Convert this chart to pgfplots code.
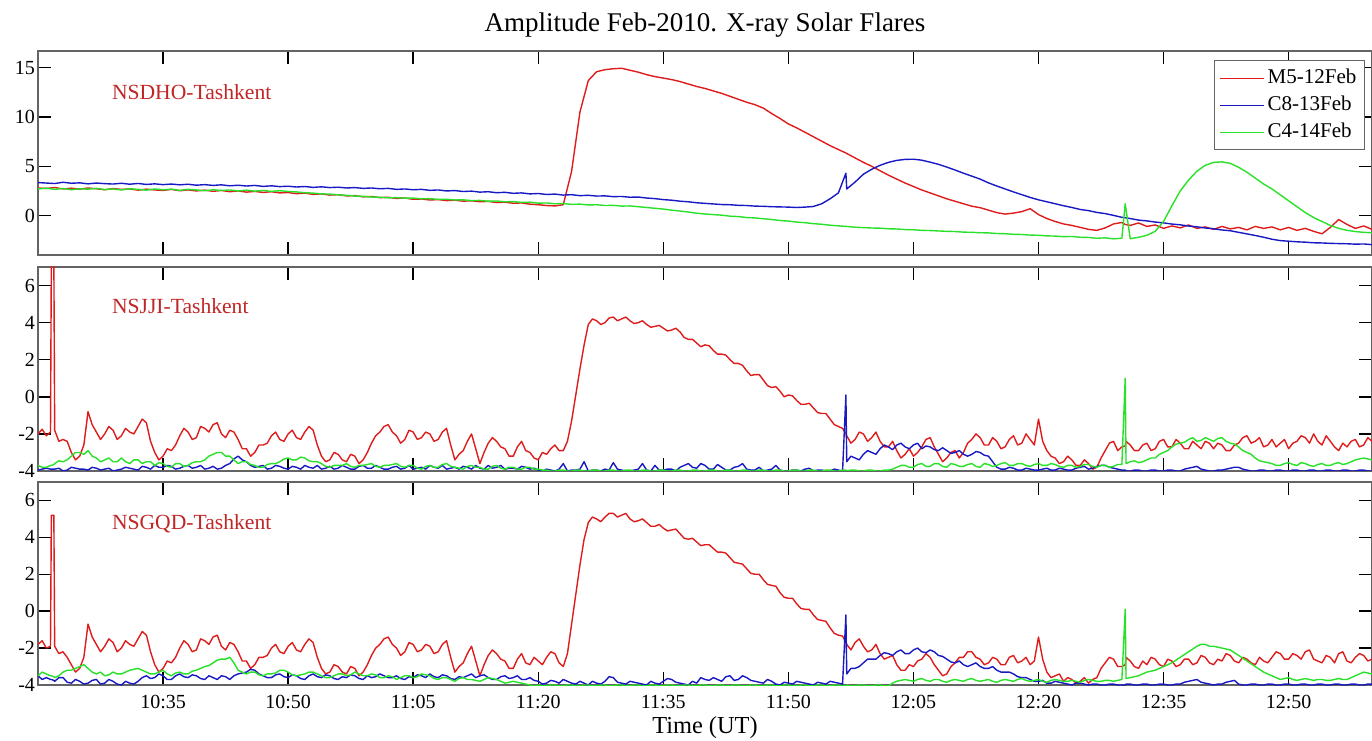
\documentclass[border=0pt]{standalone}
\usepackage{fontspec}
\setmainfont{Liberation Serif}
\usepackage{pgfplots}
\usepackage{pgfplotstable}
\pgfplotsset{compat=1.18}

\definecolor{cRed}{RGB}{222,28,28}
\definecolor{cBlue}{RGB}{24,24,196}
\definecolor{cGreen}{RGB}{40,225,40}
\definecolor{cLabel}{RGB}{192,38,38}
\definecolor{cFrame}{RGB}{100,100,100}

% time t in minutes after 10:20 UT; r = M5 12 Feb, b = C8 13 Feb, g = C4 14 Feb
\pgfplotstableread{
t r b g
0 2.8 3.35 2.7
1 2.75 3.3 2.78
2 2.85 3.25 2.66
3 2.7 3.38 2.75
4 2.78 3.28 2.62
5 2.68 3.32 2.72
6 2.8 3.22 2.68
7 2.72 3.3 2.76
8 2.62 3.24 2.64
9 2.74 3.2 2.7
10 2.66 3.28 2.6
11 2.7 3.18 2.72
12 2.58 3.26 2.66
13 2.68 3.16 2.58
14 2.6 3.22 2.7
15 2.55 3.14 2.62
16 2.66 3.2 2.68
17 2.52 3.12 2.56
18 2.6 3.18 2.66
19 2.5 3.08 2.6
20 2.58 3.14 2.52
21 2.46 3.06 2.62
22 2.55 3.12 2.55
23 2.42 3.02 2.6
24 2.5 3.08 2.5
25 2.38 3.0 2.58
26 2.45 3.06 2.48
27 2.35 2.96 2.55
28 2.42 3.02 2.46
29 2.3 2.94 2.52
30 2.34 2.98 2.45
31 2.22 2.9 2.4
32 2.28 2.95 2.32
33 2.15 2.86 2.28
34 2.2 2.92 2.2
35 2.08 2.84 2.18
36 2.12 2.88 2.1
37 2.0 2.8 2.06
38 2.02 2.84 1.98
39 1.9 2.76 1.96
40 1.94 2.8 1.88
41 1.82 2.72 1.86
42 1.86 2.76 1.8
43 1.74 2.66 1.82
44 1.78 2.7 1.76
45 1.65 2.62 1.78
46 1.68 2.66 1.7
47 1.58 2.56 1.72
48 1.62 2.6 1.64
49 1.52 2.5 1.66
50 1.56 2.54 1.58
51 1.46 2.44 1.6
52 1.5 2.48 1.52
53 1.4 2.38 1.54
54 1.44 2.42 1.46
55 1.32 2.32 1.48
56 1.36 2.36 1.4
57 1.25 2.26 1.42
58 1.28 2.3 1.34
59 1.16 2.2 1.36
60 1.1 2.24 1.26
61 1.02 2.14 1.28
62 0.98 2.18 1.2
63 1.1 2.08 1.22
64 4.5 2.12 1.14
65 10.5 2.02 1.16
66 13.7 2.06 1.08
67 14.6 1.98 1.1
68 14.8 2.0 1.02
69 14.9 1.92 1.04
70 14.95 1.94 0.96
71 14.75 1.86 0.98
72 14.55 1.88 0.9
73 14.3 1.78 0.82
74 14.1 1.72 0.74
75 13.95 1.62 0.66
76 13.8 1.56 0.55
77 13.6 1.46 0.46
78 13.35 1.4 0.36
79 13.1 1.3 0.24
80 12.9 1.24 0.16
81 12.65 1.18 0.1
82 12.4 1.12 0.04
83 12.1 1.1 -0.06
84 11.8 1.04 -0.1
85 11.5 1.02 -0.2
86 11.25 0.96 -0.24
87 10.9 0.94 -0.32
88 10.35 0.9 -0.4
89 9.85 0.88 -0.5
90 9.3 0.86 -0.56
91 8.9 0.82 -0.66
92 8.45 0.86 -0.72
93 8.0 0.92 -0.82
94 7.55 1.2 -0.88
95 7.1 1.7 -0.98
96 6.7 2.3 -1.04
96.9 6.35 4.3 -1.1
97 6.3 2.7 -1.1
98 5.85 3.4 -1.18
99 5.4 4.2 -1.22
100 5.0 4.7 -1.26
101 4.55 5.1 -1.28
102 4.1 5.4 -1.34
103 3.7 5.6 -1.36
104 3.3 5.7 -1.42
105 2.95 5.72 -1.44
106 2.6 5.62 -1.5
107 2.3 5.42 -1.52
108 2.0 5.2 -1.56
109 1.7 4.92 -1.6
110 1.45 4.62 -1.62
111 1.2 4.3 -1.68
112 0.95 4.0 -1.7
113 0.8 3.7 -1.74
114 0.55 3.32 -1.76
115 0.3 3.0 -1.82
116 0.15 2.7 -1.84
117 0.25 2.4 -1.9
118 0.4 2.12 -1.92
119 0.7 1.84 -1.98
120 0.1 1.6 -2.0
121 -0.3 1.4 -2.06
122 -0.6 1.2 -2.08
123 -0.85 1.0 -2.14
124 -1.0 0.82 -2.12
125 -1.2 0.62 -2.2
126 -1.4 0.5 -2.22
127 -1.5 0.32 -2.3
128 -1.25 0.2 -2.26
129 -0.85 0.02 -2.36
130 -0.7 -0.18 -2.3
130.4 -0.9 -0.22 1.2
131 -1.0 -0.3 -2.35
132 -0.75 -0.46 -2.2
133 -1.1 -0.54 -2.0
134 -0.95 -0.66 -1.6
135 -1.3 -0.74 -0.6
136 -1.05 -0.86 1.0
137 -1.25 -0.94 2.5
138 -0.95 -1.06 3.6
139 -1.3 -1.14 4.5
140 -1.15 -1.26 5.1
141 -1.4 -1.34 5.4
142 -1.1 -1.46 5.45
143 -1.35 -1.54 5.3
144 -1.2 -1.7 4.9
145 -1.45 -1.86 4.4
146 -1.1 -2.02 3.8
147 -1.3 -2.2 3.2
148 -1.15 -2.4 2.7
149 -1.45 -2.54 2.1
150 -1.2 -2.6 1.5
151 -1.5 -2.66 0.9
152 -1.3 -2.7 0.3
153 -1.6 -2.76 -0.2
154 -1.85 -2.78 -0.6
155 -1.2 -2.82 -1.0
156 -0.4 -2.84 -1.3
157 -0.9 -2.86 -1.5
158 -1.3 -2.9 -1.62
159 -1.05 -2.88 -1.7
160 -1.4 -2.95 -1.75
}\dhodata

\pgfplotstableread{
t r b g
0 -2.0 -3.95 -3.7
0.5 -1.75 -3.9 -3.8
1 -2.1 -3.85 -3.8
1.5 -1.9 -3.9 -3.7
1.6 7.5 -3.9 -3.7
1.9 7.5 -3.9 -3.65
2 -1.8 -3.9 -3.6
2.5 -2.4 -3.85 -3.45
3 -2.3 -4.0 -3.5
3.5 -2.4 -3.95 -3.4
4 -3.0 -3.8 -3.2
4.5 -3.4 -3.85 -3.0
5 -3.2 -3.9 -3.0
5.5 -2.6 -3.9 -3.1
6 -0.8 -3.95 -2.9
6.5 -1.5 -3.8 -3.2
7 -1.9 -3.85 -3.3
7.5 -2.3 -3.95 -3.5
8 -2.0 -3.9 -3.4
8.5 -1.6 -3.85 -3.3
9 -1.8 -4.0 -3.5
9.5 -2.3 -3.95 -3.5
10 -2.1 -3.9 -3.3
10.5 -1.7 -3.8 -3.5
11 -1.9 -3.85 -3.6
11.5 -2.0 -3.9 -3.4
12 -1.6 -3.95 -3.4
12.5 -1.2 -3.75 -3.6
13 -1.4 -3.8 -3.5
13.5 -2.4 -3.9 -3.5
14 -3.0 -3.7 -3.7
14.5 -3.4 -3.8 -3.55
15 -3.2 -3.8 -3.6
15.5 -2.8 -3.7 -3.75
16 -2.9 -3.75 -3.8
16.5 -2.6 -3.9 -3.6
17 -2.1 -3.85 -3.6
17.5 -1.7 -3.75 -3.75
18 -1.9 -3.7 -3.7
18.5 -2.3 -3.85 -3.55
19 -2.2 -3.8 -3.5
19.5 -1.6 -3.7 -3.5
20 -1.7 -3.9 -3.4
20.5 -1.9 -3.85 -3.2
21 -1.5 -3.75 -3.1
21.5 -1.4 -3.9 -3.0
22 -2.0 -3.85 -3.0
22.5 -2.2 -3.7 -3.2
23 -1.8 -3.6 -3.2
23.5 -1.9 -3.35 -3.4
24 -2.3 -3.2 -3.6
24.5 -2.8 -3.4 -3.5
25 -2.8 -3.5 -3.5
25.5 -3.2 -3.7 -3.65
26 -3.0 -3.8 -3.7
26.5 -2.6 -3.75 -3.8
27 -2.6 -3.7 -3.8
27.5 -2.5 -3.9 -3.65
28 -2.1 -3.85 -3.6
28.5 -1.9 -3.7 -3.6
29 -2.3 -3.75 -3.5
29.5 -2.4 -3.85 -3.35
30 -2.0 -3.9 -3.3
30.5 -1.8 -3.75 -3.4
31 -2.2 -3.8 -3.4
31.5 -2.3 -3.9 -3.25
32 -1.9 -3.7 -3.3
32.5 -1.6 -3.8 -3.45
33 -1.8 -3.85 -3.5
33.5 -2.6 -3.7 -3.5
34 -3.2 -3.9 -3.6
34.5 -3.5 -3.85 -3.75
35 -3.4 -3.75 -3.8
35.5 -3.0 -3.9 -3.7
36 -3.1 -3.85 -3.7
36.5 -3.4 -3.7 -3.7
37 -3.5 -3.8 -3.6
37.5 -3.1 -3.9 -3.75
38 -3.2 -3.9 -3.8
38.5 -3.6 -3.75 -3.7
39 -3.4 -3.7 -3.7
39.5 -3.0 -3.85 -3.65
40 -2.5 -3.85 -3.6
40.5 -2.1 -3.7 -3.75
41 -1.9 -3.8 -3.8
41.5 -1.6 -3.9 -3.7
42 -1.5 -3.9 -3.7
42.5 -1.9 -3.8 -3.65
43 -2.1 -3.75 -3.6
43.5 -2.5 -3.9 -3.75
44 -2.3 -3.85 -3.8
44.5 -1.8 -3.7 -3.7
45 -1.9 -3.9 -3.7
45.5 -2.3 -3.85 -3.85
46 -2.2 -3.8 -3.9
46.5 -1.9 -3.9 -3.75
47 -2.0 -3.7 -3.7
47.5 -2.4 -3.8 -3.8
48 -2.3 -3.85 -3.8
48.5 -1.9 -3.7 -3.65
49 -1.7 -3.9 -3.6
49.5 -2.6 -3.85 -3.75
50 -3.4 -3.8 -3.8
50.5 -3.1 -3.9 -3.85
51 -2.9 -3.75 -3.9
51.5 -2.4 -3.8 -3.75
52 -2.0 -3.9 -3.7
52.5 -2.8 -3.7 -3.8
53 -3.6 -3.85 -3.8
53.5 -3.0 -3.9 -3.9
54 -2.5 -3.7 -3.9
54.5 -2.2 -3.85 -3.75
55 -2.4 -3.8 -3.7
55.5 -2.7 -3.7 -3.85
56 -2.8 -3.9 -3.9
56.5 -3.2 -3.85 -3.8
57 -3.2 -3.85 -3.8
57.5 -2.7 -3.9 -3.9
58 -2.4 -3.75 -3.9
58.5 -2.9 -3.8 -3.8
59 -3.0 -3.9 -3.8
59.5 -3.3 -3.85 -3.9
60 -3.4 -3.95 -3.9
60.5 -3.0 -4.0 -3.95
61 -3.1 -3.9 -3.95
61.5 -2.8 -3.95 -4.0
62 -2.6 -4.0 -4.0
62.5 -2.9 -3.9 -3.95
63 -2.9 -3.6 -3.95
63.5 -2.4 -4.0 -4.0
64 -1.3 -3.95 -4.0
64.5 0.1 -3.95 -3.95
65 1.5 -3.9 -3.95
65.5 2.8 -3.5 -4.0
66 3.9 -4.0 -4.0
66.5 4.2 -3.95 -3.95
67 4.1 -3.95 -3.95
67.5 3.9 -4.0 -4.0
68 4.0 -3.9 -4.0
68.5 4.25 -3.95 -3.95
69 4.3 -3.55 -3.95
69.5 4.1 -3.9 -4.0
70 4.2 -3.95 -4.0
70.5 4.3 -4.0 -3.95
71 4.1 -4.0 -3.95
71.5 3.95 -3.95 -4.0
72 4.0 -3.9 -4.0
72.5 4.1 -3.6 -3.95
73 3.9 -3.95 -3.95
73.5 3.75 -4.0 -4.0
74 3.8 -3.7 -4.0
74.5 3.85 -3.95 -3.95
75 3.7 -3.95 -3.95
75.5 3.55 -3.9 -4.0
76 3.6 -3.9 -4.0
76.5 3.7 -4.0 -3.95
77 3.5 -3.8 -3.95
77.5 3.2 -3.7 -4.0
78 3.1 -3.6 -4.0
78.5 3.1 -3.8 -3.95
79 2.9 -3.85 -3.95
79.5 2.7 -3.6 -4.0
80 2.8 -3.7 -4.0
80.5 2.75 -3.9 -3.95
81 2.5 -3.9 -3.95
81.5 2.3 -3.65 -4.0
82 2.3 -3.8 -4.0
82.5 2.25 -3.95 -3.95
83 2.0 -3.95 -3.95
83.5 1.8 -3.8 -4.0
84 1.8 -3.75 -4.0
84.5 1.7 -3.6 -3.95
85 1.4 -3.9 -3.95
85.5 1.15 -3.95 -4.0
86 1.2 -3.95 -4.0
86.5 1.2 -3.8 -3.95
87 0.9 -4.0 -3.95
87.5 0.6 -3.95 -4.0
88 0.5 -3.9 -4.0
88.5 0.55 -3.7 -3.95
89 0.3 -3.95 -3.95
89.5 0.0 -4.0 -4.0
90 0.1 -4.0 -4.0
90.5 0.05 -3.95 -3.95
91 -0.2 -3.95 -3.95
91.5 -0.4 -4.0 -4.0
92 -0.4 -3.9 -4.0
92.5 -0.35 -3.85 -3.95
93 -0.6 -4.0 -3.95
93.5 -0.85 -3.95 -4.0
94 -0.9 -3.95 -4.0
94.5 -0.9 -4.0 -3.95
95 -1.2 -4.0 -3.95
95.5 -1.5 -3.9 -4.0
96 -1.6 -3.95 -4.0
96.5 -1.7 -4.0 -3.95
96.9 -2.0 0.1 -3.95
97 -2.1 -3.5 -4.0
97.5 -2.5 -3.2 -3.95
98 -2.3 -3.3 -3.95
98.5 -1.9 -3.4 -4.0
99 -2.0 -3.1 -4.0
99.5 -2.4 -2.9 -3.95
100 -2.2 -3.0 -3.95
100.5 -1.9 -3.1 -4.0
101 -2.4 -2.8 -4.0
101.5 -2.7 -2.6 -3.95
102 -2.7 -2.7 -3.95
102.5 -2.4 -2.85 -3.9
103 -2.9 -2.6 -3.8
103.5 -3.3 -2.5 -3.7
104 -3.1 -2.7 -3.7
104.5 -2.8 -2.8 -3.8
105 -3.2 -2.6 -3.8
105.5 -3.0 -2.5 -3.65
106 -2.7 -2.8 -3.6
106.5 -2.3 -2.65 -3.75
107 -2.2 -2.7 -3.75
107.5 -2.7 -2.85 -3.6
108 -3.1 -2.9 -3.6
108.5 -3.5 -2.75 -3.75
109 -3.3 -2.9 -3.8
109.5 -3.0 -3.05 -3.6
110 -2.9 -3.0 -3.65
110.5 -3.3 -2.9 -3.75
111 -3.0 -3.1 -3.75
111.5 -2.5 -3.2 -3.65
112 -2.3 -3.1 -3.6
112.5 -2.0 -2.95 -3.75
113 -2.2 -3.0 -3.8
113.5 -2.6 -3.15 -3.6
114 -2.6 -3.2 -3.65
114.5 -2.2 -3.5 -3.75
115 -2.4 -3.8 -3.7
115.5 -2.8 -3.9 -3.6
116 -2.7 -3.9 -3.55
116.5 -2.3 -3.8 -3.7
117 -2.1 -3.85 -3.7
117.5 -2.6 -3.95 -3.6
118 -2.5 -3.95 -3.6
118.5 -2.0 -3.85 -3.7
119 -2.3 -3.9 -3.75
119.5 -2.6 -3.95 -3.65
120 -1.2 -3.95 -3.6
120.5 -2.4 -3.9 -3.7
121 -2.9 -3.85 -3.7
121.5 -3.2 -3.95 -3.6
122 -3.3 -3.95 -3.65
122.5 -3.6 -3.85 -3.75
123 -3.5 -3.9 -3.8
123.5 -3.2 -3.95 -3.7
124 -3.4 -3.95 -3.7
124.5 -3.7 -3.85 -3.8
125 -3.7 -3.8 -3.75
125.5 -3.4 -3.75 -3.65
126 -3.6 -3.9 -3.65
126.5 -3.9 -3.85 -3.75
127 -3.8 -3.75 -3.8
127.5 -3.3 -3.7 -3.7
128 -2.9 -3.7 -3.7
128.5 -2.5 -3.8 -3.8
129 -2.4 -3.85 -3.75
129.5 -2.9 -3.9 -3.65
130 -2.7 -3.95 -3.65
130.4 -2.65 -3.95 1.0
130.5 -2.4 -4.0 -3.6
131 -2.6 -4.0 -3.5
131.5 -2.9 -3.95 -3.45
132 -2.9 -3.95 -3.55
132.5 -2.6 -4.0 -3.5
133 -2.5 -4.0 -3.4
133.5 -2.9 -3.95 -3.3
134 -2.8 -3.95 -3.3
134.5 -2.4 -4.0 -3.1
135 -2.3 -4.0 -3.0
135.5 -2.7 -3.95 -2.9
136 -2.7 -3.95 -2.7
136.5 -2.3 -4.0 -2.55
137 -2.5 -4.0 -2.5
137.5 -2.8 -3.9 -2.45
138 -2.8 -3.85 -2.3
138.5 -2.4 -3.8 -2.2
139 -2.6 -3.75 -2.4
139.5 -2.8 -3.9 -2.35
140 -2.4 -3.95 -2.2
140.5 -2.5 -4.0 -2.3
141 -2.8 -4.0 -2.4
141.5 -2.5 -3.95 -2.25
142 -2.6 -3.95 -2.2
142.5 -2.9 -3.9 -2.4
143 -2.9 -3.85 -2.5
143.5 -2.6 -3.8 -2.55
144 -2.5 -3.8 -2.7
144.5 -2.2 -3.9 -2.9
145 -2.1 -3.95 -3.0
145.5 -2.5 -4.0 -3.1
146 -2.4 -4.0 -3.3
146.5 -2.2 -3.95 -3.45
147 -2.7 -3.95 -3.5
147.5 -2.6 -4.0 -3.55
148 -2.3 -4.0 -3.6
148.5 -2.7 -3.95 -3.7
149 -2.5 -3.95 -3.7
149.5 -2.3 -4.0 -3.6
150 -2.8 -4.0 -3.55
150.5 -2.5 -3.95 -3.65
151 -2.4 -3.95 -3.7
151.5 -2.1 -4.0 -3.55
152 -2.2 -4.0 -3.6
152.5 -2.5 -3.95 -3.7
153 -2.0 -3.95 -3.75
153.5 -2.4 -4.0 -3.65
154 -2.6 -4.0 -3.6
154.5 -2.1 -3.95 -3.7
155 -2.4 -3.95 -3.7
155.5 -2.7 -4.0 -3.6
156 -2.9 -4.0 -3.55
156.5 -2.5 -3.95 -3.65
157 -2.7 -3.95 -3.6
157.5 -2.4 -4.0 -3.5
158 -2.3 -4.0 -3.4
158.5 -2.7 -3.95 -3.35
159 -2.6 -3.95 -3.3
159.5 -2.2 -4.0 -3.35
160 -2.4 -4.0 -3.4
}\jjidata

\pgfplotstableread{
t r b g
0 -1.8 -3.5 -3.5
0.5 -1.6 -3.7 -3.3
1 -2.0 -3.6 -3.4
1.5 -1.9 -3.7 -3.5
1.6 5.2 -3.7 -3.5
1.9 5.2 -3.75 -3.55
2 -1.9 -3.8 -3.6
2.5 -2.3 -3.6 -3.5
3 -2.2 -3.6 -3.3
3.5 -2.5 -3.85 -3.2
4 -2.9 -3.9 -3.2
4.5 -3.3 -3.7 -3.1
5 -3.1 -3.8 -3.0
5.5 -2.5 -3.95 -2.9
6 -0.7 -3.9 -3.1
6.5 -1.4 -3.75 -3.3
7 -1.8 -3.7 -3.4
7.5 -2.2 -3.95 -3.3
8 -1.9 -3.9 -3.5
8.5 -1.5 -3.7 -3.45
9 -1.7 -3.8 -3.3
9.5 -2.2 -3.95 -3.4
10 -2.0 -4.0 -3.4
10.5 -1.6 -3.8 -3.3
11 -1.8 -3.9 -3.2
11.5 -1.9 -3.95 -3.15
12 -1.5 -3.8 -3.1
12.5 -1.1 -3.6 -3.2
13 -1.3 -3.5 -3.3
13.5 -2.2 -3.65 -3.4
14 -2.9 -3.6 -3.4
14.5 -3.3 -3.4 -3.3
15 -3.1 -3.5 -3.2
15.5 -2.7 -3.7 -3.4
16 -2.8 -3.7 -3.5
16.5 -2.5 -3.5 -3.35
17 -2.0 -3.4 -3.3
17.5 -1.6 -3.55 -3.4
18 -1.8 -3.6 -3.4
18.5 -2.2 -3.45 -3.25
19 -2.1 -3.5 -3.2
19.5 -1.5 -3.65 -3.1
20 -1.6 -3.7 -3.0
20.5 -1.8 -3.5 -2.95
21 -1.4 -3.6 -2.8
21.5 -1.3 -3.7 -2.65
22 -1.9 -3.5 -2.6
22.5 -2.1 -3.55 -2.6
23 -1.7 -3.7 -2.5
23.5 -1.8 -3.5 -2.8
24 -2.2 -3.4 -3.2
24.5 -2.7 -3.35 -3.3
25 -2.7 -3.3 -3.4
25.5 -3.1 -3.15 -3.3
26 -2.9 -3.2 -3.3
26.5 -2.5 -3.4 -3.45
27 -2.5 -3.5 -3.5
27.5 -2.4 -3.6 -3.4
28 -2.0 -3.6 -3.4
28.5 -1.8 -3.45 -3.35
29 -2.2 -3.4 -3.2
29.5 -2.3 -3.55 -3.2
30 -1.9 -3.6 -3.3
30.5 -1.7 -3.45 -3.45
31 -2.1 -3.5 -3.5
31.5 -2.2 -3.65 -3.45
32 -1.8 -3.7 -3.4
32.5 -1.5 -3.5 -3.3
33 -1.7 -3.4 -3.3
33.5 -2.5 -3.55 -3.4
34 -3.1 -3.6 -3.5
34.5 -3.4 -3.45 -3.6
35 -3.3 -3.5 -3.6
35.5 -2.9 -3.65 -3.5
36 -3.0 -3.7 -3.4
36.5 -3.3 -3.55 -3.4
37 -3.4 -3.6 -3.5
37.5 -3.0 -3.45 -3.45
38 -3.1 -3.5 -3.3
38.5 -3.5 -3.65 -3.4
39 -3.3 -3.7 -3.5
39.5 -2.9 -3.5 -3.5
40 -2.4 -3.6 -3.4
40.5 -2.0 -3.55 -3.45
41 -1.8 -3.4 -3.6
41.5 -1.5 -3.5 -3.6
42 -1.4 -3.6 -3.5
42.5 -1.8 -3.6 -3.55
43 -2.0 -3.5 -3.7
43.5 -2.4 -3.65 -3.6
44 -2.2 -3.7 -3.5
44.5 -1.7 -3.55 -3.5
45 -1.8 -3.6 -3.6
45.5 -2.2 -3.45 -3.55
46 -2.1 -3.5 -3.4
46.5 -1.8 -3.6 -3.45
47 -1.9 -3.4 -3.5
47.5 -2.3 -3.55 -3.65
48 -2.2 -3.6 -3.7
48.5 -1.8 -3.45 -3.6
49 -1.6 -3.5 -3.6
49.5 -2.5 -3.65 -3.7
50 -3.3 -3.7 -3.8
50.5 -3.0 -3.55 -3.65
51 -2.8 -3.6 -3.6
51.5 -2.3 -3.5 -3.7
52 -1.9 -3.4 -3.7
52.5 -2.7 -3.6 -3.75
53 -3.5 -3.5 -3.8
53.5 -2.9 -3.45 -3.7
54 -2.4 -3.6 -3.6
54.5 -2.1 -3.7 -3.65
55 -2.3 -3.7 -3.7
55.5 -2.6 -3.55 -3.8
56 -2.7 -3.5 -3.9
56.5 -3.1 -3.65 -3.85
57 -3.1 -3.6 -3.8
57.5 -2.6 -3.5 -3.85
58 -2.3 -3.7 -3.9
58.5 -2.8 -3.7 -3.95
59 -2.9 -3.6 -4.0
59.5 -2.5 -3.75 -4.05
60 -2.7 -3.8 -4.0
60.5 -2.9 -3.95 -4.05
61 -2.5 -3.9 -4.05
61.5 -2.2 -3.75 -4.0
62 -2.3 -3.8 -4.0
62.5 -2.8 -3.9 -4.05
63 -3.0 -3.7 -4.05
63.5 -2.3 -3.8 -4.0
64 -0.7 -3.9 -4.0
64.5 0.9 -3.95 -4.05
65 2.5 -3.8 -4.05
65.5 3.9 -3.9 -4.0
66 4.8 -4.0 -4.0
66.5 5.1 -3.8 -4.05
67 5.0 -3.9 -4.05
67.5 4.85 -3.95 -4.0
68 5.1 -3.8 -4.0
68.5 5.3 -3.55 -4.05
69 5.3 -3.6 -4.05
69.5 5.1 -3.85 -4.0
70 5.2 -3.9 -4.0
70.5 5.3 -3.95 -4.05
71 5.0 -3.8 -4.05
71.5 4.85 -3.85 -4.0
72 4.9 -3.9 -4.0
72.5 5.0 -3.95 -4.05
73 4.8 -4.0 -4.05
73.5 4.6 -3.8 -4.0
74 4.6 -3.9 -4.0
74.5 4.7 -3.95 -4.05
75 4.5 -3.8 -4.05
75.5 4.35 -3.65 -4.0
76 4.4 -3.7 -4.0
76.5 4.45 -3.85 -4.05
77 4.2 -3.9 -4.05
77.5 3.95 -3.95 -4.0
78 3.9 -4.0 -4.0
78.5 3.95 -3.8 -4.05
79 3.75 -3.9 -4.05
79.5 3.55 -3.6 -4.0
80 3.6 -3.7 -4.0
80.5 3.6 -3.75 -4.05
81 3.4 -3.6 -4.05
81.5 3.2 -3.7 -4.0
82 3.2 -3.8 -4.0
82.5 3.15 -3.55 -4.05
83 2.9 -3.5 -4.05
83.5 2.65 -3.75 -4.0
84 2.6 -3.7 -4.0
84.5 2.55 -3.5 -4.05
85 2.3 -3.6 -4.05
85.5 2.05 -3.75 -4.0
86 2.0 -3.8 -4.0
86.5 2.0 -3.85 -4.05
87 1.7 -3.9 -4.05
87.5 1.45 -3.7 -4.0
88 1.4 -3.8 -4.0
88.5 1.35 -3.95 -4.05
89 1.0 -4.0 -4.05
89.5 0.75 -3.85 -4.0
90 0.7 -3.9 -4.0
90.5 0.7 -3.95 -4.05
91 0.4 -3.8 -4.05
91.5 0.15 -3.85 -4.0
92 0.1 -3.9 -4.0
92.5 0.1 -3.95 -4.05
93 -0.2 -4.0 -4.05
93.5 -0.45 -3.85 -4.0
94 -0.5 -3.9 -4.0
94.5 -0.55 -3.95 -4.05
95 -0.9 -3.8 -4.05
95.5 -1.2 -3.85 -4.0
96 -1.3 -3.9 -4.0
96.5 -1.35 -3.95 -4.05
96.9 -1.7 -0.2 -4.05
97 -1.8 -3.4 -4.0
97.5 -2.1 -3.1 -4.05
98 -1.7 -3.1 -4.05
98.5 -1.5 -3.0 -4.0
99 -1.9 -2.8 -4.0
99.5 -2.2 -2.6 -4.05
100 -2.1 -2.6 -4.05
100.5 -1.8 -2.6 -4.0
101 -2.3 -2.4 -4.0
101.5 -2.6 -2.25 -4.05
102 -2.5 -2.3 -4.05
102.5 -2.4 -2.4 -3.9
103 -2.9 -2.2 -3.8
103.5 -3.2 -2.1 -3.75
104 -3.2 -2.3 -3.7
104.5 -2.9 -2.3 -3.75
105 -3.0 -2.1 -3.8
105.5 -2.7 -2.0 -3.7
106 -2.6 -2.2 -3.65
106.5 -2.3 -2.25 -3.75
107 -2.5 -2.1 -3.8
107.5 -2.9 -2.2 -3.7
108 -3.2 -2.4 -3.7
108.5 -3.5 -2.45 -3.8
109 -3.4 -2.6 -3.85
109.5 -3.0 -2.75 -3.75
110 -2.8 -2.8 -3.7
110.5 -2.5 -2.7 -3.75
111 -2.5 -2.9 -3.8
111.5 -2.2 -3.0 -3.7
112 -2.2 -2.9 -3.65
112.5 -2.5 -2.8 -3.75
113 -2.6 -3.0 -3.8
113.5 -2.9 -3.1 -3.75
114 -2.8 -3.1 -3.7
114.5 -2.5 -3.0 -3.8
115 -2.6 -3.2 -3.85
115.5 -2.9 -3.3 -3.75
116 -2.9 -3.3 -3.7
116.5 -2.5 -3.3 -3.75
117 -2.4 -3.4 -3.8
117.5 -2.8 -3.55 -3.7
118 -2.7 -3.6 -3.65
118.5 -2.5 -3.6 -3.75
119 -2.9 -3.7 -3.8
119.5 -2.7 -3.8 -3.75
120 -1.4 -3.8 -3.7
120.5 -2.6 -3.75 -3.8
121 -3.3 -3.9 -3.85
121.5 -3.6 -3.9 -3.75
122 -3.5 -3.8 -3.7
122.5 -3.4 -3.85 -3.75
123 -3.8 -3.9 -3.8
123.5 -3.6 -3.95 -3.8
124 -3.7 -4.0 -3.75
124.5 -3.9 -3.9 -3.8
125 -3.8 -3.9 -3.85
125.5 -3.6 -3.95 -3.75
126 -3.9 -4.0 -3.7
126.5 -3.7 -3.95 -3.75
127 -3.6 -3.95 -3.8
127.5 -3.1 -4.0 -3.8
128 -2.8 -4.0 -3.75
128.5 -2.5 -3.95 -3.75
129 -2.6 -3.95 -3.8
129.5 -3.0 -4.0 -3.75
130 -3.0 -4.0 -3.7
130.4 -2.9 -4.0 0.1
130.5 -2.5 -3.95 -3.65
131 -2.7 -3.95 -3.6
131.5 -3.0 -4.0 -3.55
132 -3.1 -4.0 -3.5
132.5 -2.7 -3.95 -3.4
133 -2.9 -3.95 -3.3
133.5 -2.5 -4.0 -3.25
134 -2.6 -4.0 -3.2
134.5 -2.9 -3.95 -3.1
135 -3.0 -3.95 -3.0
135.5 -2.6 -4.0 -2.9
136 -2.7 -4.0 -2.8
136.5 -3.0 -3.95 -2.65
137 -2.9 -3.95 -2.5
137.5 -2.6 -3.85 -2.35
138 -2.6 -3.8 -2.2
138.5 -2.9 -3.75 -2.05
139 -2.8 -3.7 -1.9
139.5 -2.4 -3.85 -1.8
140 -2.5 -3.9 -1.8
140.5 -2.8 -3.95 -1.9
141 -2.9 -4.0 -1.9
141.5 -2.6 -3.95 -1.95
142 -2.7 -3.95 -2.0
142.5 -2.3 -3.85 -2.05
143 -2.4 -3.8 -2.1
143.5 -2.7 -3.75 -2.25
144 -2.8 -3.95 -2.4
144.5 -2.5 -4.0 -2.55
145 -2.6 -4.0 -2.7
145.5 -2.8 -3.95 -2.85
146 -2.9 -3.95 -3.0
146.5 -2.5 -4.0 -3.15
147 -2.7 -4.0 -3.3
147.5 -2.8 -3.95 -3.4
148 -2.5 -3.95 -3.5
148.5 -2.2 -4.0 -3.6
149 -2.3 -4.0 -3.7
149.5 -2.6 -3.95 -3.65
150 -2.6 -3.95 -3.6
150.5 -2.3 -4.0 -3.7
151 -2.4 -4.0 -3.75
151.5 -2.6 -3.95 -3.7
152 -2.2 -3.95 -3.65
152.5 -2.1 -4.0 -3.7
153 -2.6 -4.0 -3.75
153.5 -2.7 -3.95 -3.7
154 -2.8 -3.95 -3.7
154.5 -2.4 -4.0 -3.75
155 -2.5 -4.0 -3.75
155.5 -2.8 -3.95 -3.7
156 -2.3 -3.95 -3.65
156.5 -2.2 -4.0 -3.7
157 -2.7 -4.0 -3.7
157.5 -2.8 -3.95 -3.6
158 -2.5 -3.95 -3.5
158.5 -2.3 -4.0 -3.4
159 -2.4 -4.0 -3.3
159.5 -2.7 -3.95 -3.35
160 -2.6 -3.95 -3.4
}\gqddata

\pgfplotsset{
  panel/.style={
    scale only axis,
    width=667pt, height=102pt,
    xmin=0, xmax=160,
    xtick={15,30,...,150},
    xticklabels={},
    tick align=inside,
    xtick pos=both, ytick pos=both,
    yticklabel pos=left,
    major tick length=6.5pt,
    axis line style={draw=cFrame, line width=0.9pt},
    xtick style={draw=black, line width=0.7pt},
    ytick style={draw=black, line width=0.7pt},
    tick label style={font=\fontsize{10}{12}\selectfont},
    yticklabel style={xshift=2pt},
    /pgf/number format/assume math mode=true,
    every axis plot/.append style={line width=0.7pt, line join=round, mark=none},
  },
}
\tikzset{
  site/.style={font=\fontsize{10.8}{13}\selectfont, text=cLabel, anchor=base west},
}

\begin{document}
\begin{tikzpicture}
\path[use as bounding box] (0pt,0pt) rectangle (686pt,370pt);

% NSDHO
\begin{axis}[panel,
  at={(19pt,242.5pt)}, anchor=south west,
  ymin=-4, ymax=16.7, ytick={0,5,10,15},
  title={Amplitude Feb-2010. X-ray Solar Flares},
  title style={at={(axis description cs:0.5,1)}, anchor=base, yshift=3.7pt,
    font=\fontsize{13.5}{16}\selectfont},
  legend style={at={(1,1)}, anchor=north east, xshift=-3.5pt, yshift=-4.5pt,
    draw=cFrame, line width=0.6pt, inner xsep=2.5pt, inner ysep=3.5pt,
    font=\fontsize{10.5}{12}\selectfont, row sep=3pt,
    nodes={inner ysep=0pt, inner xsep=1.5pt, text height=8pt, text depth=2.5pt}},
  legend cell align=left,
  legend image code/.code={\draw[#1, line width=0.6pt] (0pt,0pt) -- (22pt,0pt);},
]
\addplot[cRed] table[x=t, y=r] {\dhodata};
\addplot[cBlue] table[x=t, y=b] {\dhodata};
\addplot[cGreen] table[x=t, y=g] {\dhodata};
\legend{M5-12Feb, C8-13Feb, C4-14Feb}
\node[site] at (rel axis cs:0.0502,0.760) {NSDHO-Tashkent};
\end{axis}

% NSJJI
\begin{axis}[panel,
  at={(19pt,134.5pt)}, anchor=south west,
  ymin=-4, ymax=7, ytick={-4,-2,...,6},
]
\addplot[cRed] table[x=t, y=r] {\jjidata};
\addplot[cBlue] table[x=t, y=b] {\jjidata};
\addplot[cGreen] table[x=t, y=g] {\jjidata};
\node[site] at (rel axis cs:0.0502,0.773) {NSJJI-Tashkent};
\end{axis}

% NSGQD
\begin{axis}[panel,
  at={(19pt,27.5pt)}, anchor=south west,
  height=101.5pt,
  ymin=-4, ymax=7, ytick={-4,-2,...,6},
  xticklabels={10:35,10:50,11:05,11:20,11:35,11:50,12:05,12:20,12:35,12:50},
  xticklabel pos=lower,
  xticklabel style={yshift=-1.7pt},
  xlabel={Time (UT)},
  xlabel style={at={(axis description cs:0.5,0)}, anchor=base, yshift=-24pt,
    font=\fontsize{12.2}{14}\selectfont},
]
\addplot[cRed] table[x=t, y=r] {\gqddata};
\addplot[cBlue] table[x=t, y=b] {\gqddata};
\addplot[cGreen] table[x=t, y=g] {\gqddata};
\node[site] at (rel axis cs:0.0502,0.764) {NSGQD-Tashkent};
\end{axis}
\end{tikzpicture}
\end{document}
